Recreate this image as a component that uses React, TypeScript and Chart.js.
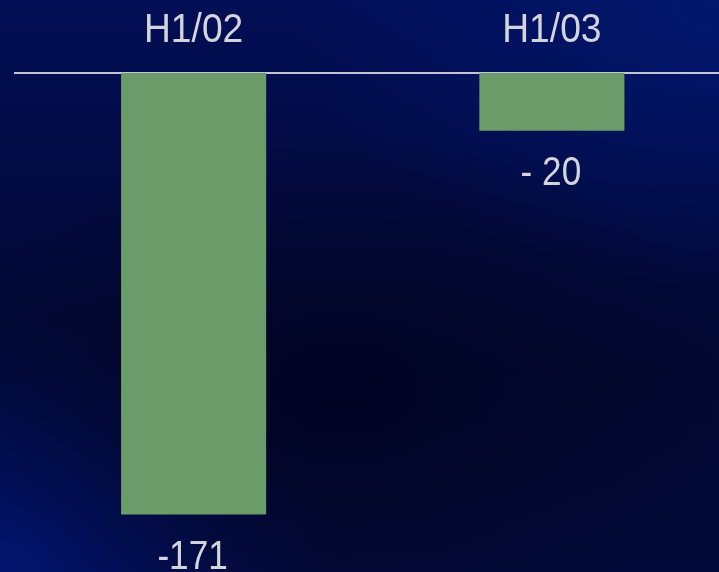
import React, { useEffect, useRef } from "react";
import { Chart, registerables } from "chart.js";

Chart.register(...registerables);

const categories = ["H1/02", "H1/03"];
const values = [-171, -22.4];
const valueLabels = ["-171", "- 20"];

const FONT = "'Liberation Sans', Arial, sans-serif";
const TEXT_COLOR = "#d4d4dc";

function drawSqueezed(ctx: any, text: string, x: number, y: number, sx: number) {
  ctx.save();
  ctx.translate(x, y);
  ctx.scale(sx, 1);
  ctx.fillText(text, 0, 0);
  ctx.restore();
}

const textPlugin = {
  id: "textLabels",
  afterDatasetsDraw(chart: any) {
    const ctx = chart.ctx;
    const meta = chart.getDatasetMeta(0);
    const xScale = chart.scales.x;
    ctx.save();
    ctx.font = `40px ${FONT}`;
    ctx.fillStyle = TEXT_COLOR;
    ctx.textAlign = "center";
    ctx.textBaseline = "alphabetic";
    categories.forEach((c, i) => {
      drawSqueezed(ctx, c, xScale.getPixelForTick(i), 41.7, 0.93);
    });
    meta.data.forEach((bar: any, i: number) => {
      drawSqueezed(ctx, valueLabels[i], bar.x - 1, bar.y + 54.5, 0.88);
    });
    ctx.restore();
  },
};

export default function App() {
  const ref = useRef<HTMLCanvasElement>(null);
  useEffect(() => {
    if (!ref.current) return;
    const chart = new Chart(ref.current, {
      type: "bar",
      data: {
        labels: categories,
        datasets: [
          {
            data: values,
            backgroundColor: "#6b9b69",
            borderWidth: 0,
            barPercentage: 0.405,
            categoryPercentage: 1,
          },
        ],
      },
      options: {
        responsive: false,
        animation: false,
        layout: { padding: { left: 14.5, right: 0, top: 0, bottom: 0 } },
        plugins: { legend: { display: false }, tooltip: { enabled: false } },
        scales: {
          x: {
            position: "top",
            grid: { display: false, drawTicks: false },
            border: { display: true, color: "#c4c4d2", width: 2 },
            ticks: { display: false },
            afterFit: (scale: any) => {
              scale.height = 73;
            },
          },
          y: {
            display: false,
            min: -193.3,
            max: 0,
          },
        },
      },
      plugins: [textPlugin],
    });
    return () => chart.destroy();
  }, []);

  return (
    <div
      style={{
        position: "absolute",
        left: 0,
        top: 0,
        width: 719,
        height: 572,
        overflow: "hidden",
        background:
          "radial-gradient(ellipse 55% 45% at 48% 68%, rgba(1,4,36,0.95), rgba(1,4,36,0) 100%)," +
          "radial-gradient(ellipse 60% 50% at 100% 0%, #01166c, rgba(1,22,108,0) 100%)," +
          "radial-gradient(ellipse 45% 45% at 0% 100%, #02146e, rgba(2,20,110,0) 100%)," +
          "linear-gradient(180deg, #030f56 0%, #020a40 35%, #01072f 65%, #020938 100%)",
      }}
    >
      <canvas ref={ref} width={731} height={572} style={{ display: "block" }} />
    </div>
  );
}
